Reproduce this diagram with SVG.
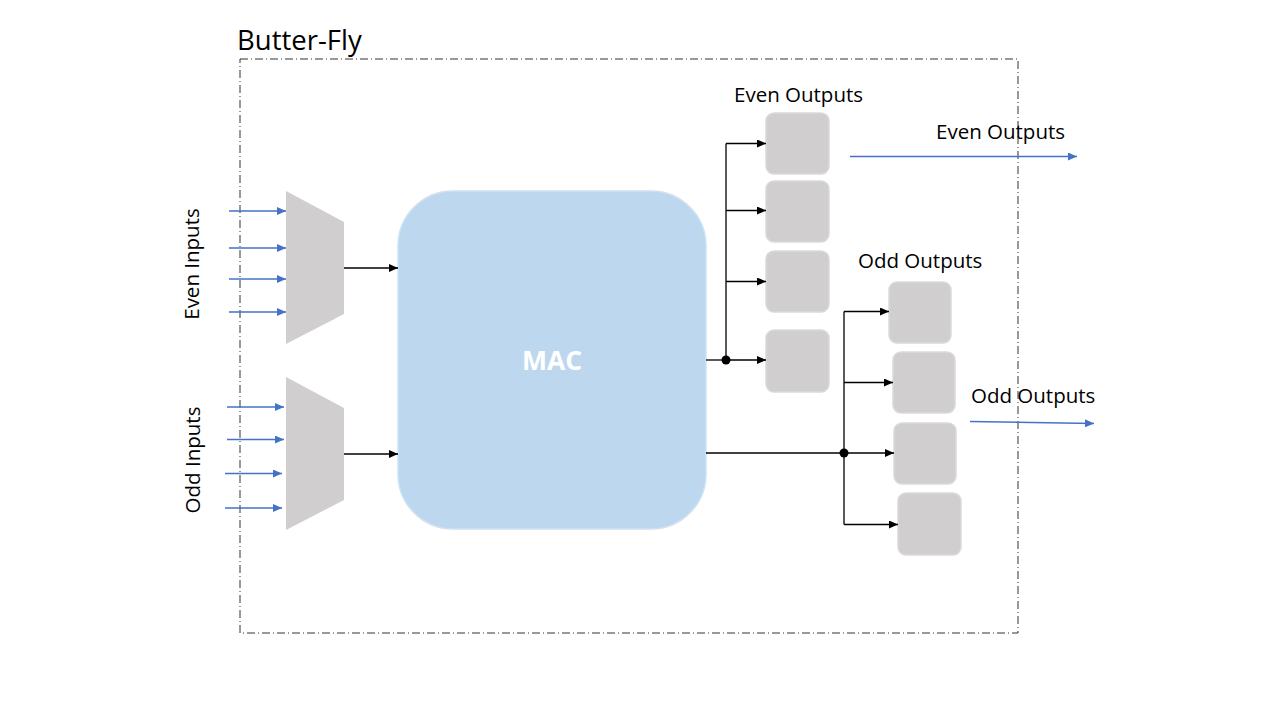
<svg xmlns="http://www.w3.org/2000/svg" width="1280" height="720" viewBox="0 0 1280 720">
<style>
.lbl{font-family:"Open Sans","Liberation Sans",sans-serif;font-size:20.5px;fill:#000}
.box{fill:#D0CECE;stroke:#DADADA;stroke-width:1.5}
.mux{fill:#D0CECE}
.blk{stroke:#000;stroke-width:1.3;fill:none}
.blue{stroke:#4472C4;stroke-width:1.3;fill:none}
</style>
<defs>
<marker id="ab" markerUnits="userSpaceOnUse" markerWidth="9" markerHeight="8" refX="9" refY="4" orient="auto">
<path d="M0,0 L9,4 L0,8 z" fill="#000"/>
</marker>
<marker id="au" markerUnits="userSpaceOnUse" markerWidth="9" markerHeight="8" refX="9" refY="4" orient="auto">
<path d="M0,0 L9,4 L0,8 z" fill="#4472C4"/>
</marker>
</defs>
<rect width="1280" height="720" fill="#fff"/>
<g id="frame">
<rect x="240" y="59" width="778" height="574" fill="none" stroke="#333333" stroke-width="1" stroke-dasharray="8 3 1 3"/>
<text class="lbl" x="237" y="50" style="font-size:27.5px">Butter-Fly</text>
</g>
<g id="mux-even"><polygon class="mux" points="286,191 344,222 344,314 286,344"/></g>
<g id="mux-odd"><polygon class="mux" points="286,377 344,408 344,500 286,530"/></g>
<g id="mac">
<rect x="398" y="191" width="308" height="338" rx="55" ry="55" fill="#BDD7EE" stroke="#CFE2F3" stroke-width="1.5"/>
<text x="552" y="370" text-anchor="middle" style="font-family:'Open Sans','Liberation Sans',sans-serif;font-size:26.5px;font-weight:bold;fill:#fff">MAC</text>
</g>
<g id="even-out-1"><rect class="box" x="766" y="113" width="63" height="61" rx="8"/></g>
<g id="even-out-2"><rect class="box" x="766" y="181" width="63" height="61" rx="8"/></g>
<g id="even-out-3"><rect class="box" x="766" y="251" width="63" height="61" rx="8"/></g>
<g id="even-out-4"><rect class="box" x="766" y="330" width="63" height="62" rx="8"/></g>
<g id="odd-out-1"><rect class="box" x="889" y="282" width="62" height="61" rx="8"/></g>
<g id="odd-out-2"><rect class="box" x="893" y="352" width="62" height="61" rx="8"/></g>
<g id="odd-out-3"><rect class="box" x="894" y="423" width="62" height="61" rx="8"/></g>
<g id="odd-out-4"><rect class="box" x="898" y="493" width="63" height="62" rx="8"/></g>
<g id="labels">
<text class="lbl" x="734" y="102">Even Outputs</text>
<text class="lbl" x="936" y="139">Even Outputs</text>
<text class="lbl" x="858" y="268">Odd Outputs</text>
<text class="lbl" x="971" y="403">Odd Outputs</text>
<text class="lbl" transform="translate(199,264) rotate(-90)" text-anchor="middle">Even Inputs</text>
<text class="lbl" transform="translate(200,460) rotate(-90)" text-anchor="middle">Odd Inputs</text>
</g>
<g id="connectors">
<line class="blue" x1="229" y1="211" x2="286" y2="211" marker-end="url(#au)"/>
<line class="blue" x1="229" y1="248" x2="286" y2="248" marker-end="url(#au)"/>
<line class="blue" x1="229" y1="279" x2="286" y2="279" marker-end="url(#au)"/>
<line class="blue" x1="229" y1="312" x2="286" y2="312" marker-end="url(#au)"/>
<line class="blue" x1="227" y1="407" x2="284" y2="407" marker-end="url(#au)"/>
<line class="blue" x1="227" y1="439.5" x2="284" y2="439.5" marker-end="url(#au)"/>
<line class="blue" x1="225" y1="473.5" x2="282" y2="473.5" marker-end="url(#au)"/>
<line class="blue" x1="225" y1="508" x2="282" y2="508" marker-end="url(#au)"/>
<line class="blk" x1="344" y1="268" x2="398" y2="268" marker-end="url(#ab)"/>
<line class="blk" x1="344" y1="454" x2="398" y2="454" marker-end="url(#ab)"/>
<line class="blk" x1="706" y1="360" x2="726" y2="360"/>
<line class="blk" x1="726" y1="143.5" x2="726" y2="360"/>
<line class="blk" x1="726" y1="143.5" x2="766" y2="143.5" marker-end="url(#ab)"/>
<line class="blk" x1="726" y1="210.5" x2="766" y2="210.5" marker-end="url(#ab)"/>
<line class="blk" x1="726" y1="281.5" x2="766" y2="281.5" marker-end="url(#ab)"/>
<line class="blk" x1="726" y1="360" x2="766" y2="360" marker-end="url(#ab)"/>
<circle cx="726" cy="360" r="4.5" fill="#000"/>
<line class="blk" x1="706" y1="453" x2="844" y2="453"/>
<line class="blk" x1="844" y1="311.5" x2="844" y2="524.5"/>
<line class="blk" x1="844" y1="311.5" x2="889" y2="311.5" marker-end="url(#ab)"/>
<line class="blk" x1="844" y1="382.5" x2="893" y2="382.5" marker-end="url(#ab)"/>
<line class="blk" x1="844" y1="453" x2="894" y2="453" marker-end="url(#ab)"/>
<line class="blk" x1="844" y1="524.5" x2="898" y2="524.5" marker-end="url(#ab)"/>
<circle cx="844" cy="453" r="4.5" fill="#000"/>
<line class="blue" x1="850" y1="156.5" x2="1077" y2="156.5" marker-end="url(#au)"/>
<line class="blue" x1="970" y1="421.5" x2="1094" y2="423.5" marker-end="url(#au)"/>
</g>
</svg>
